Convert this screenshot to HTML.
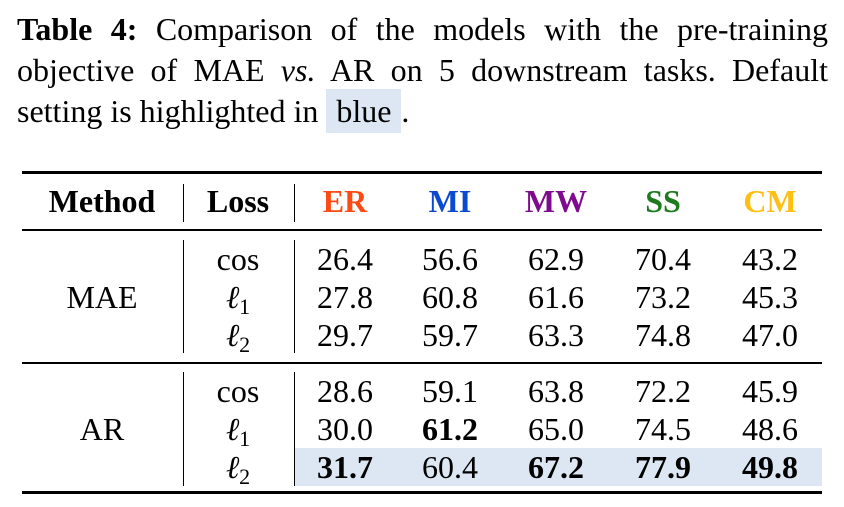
<!DOCTYPE html>
<html><head><meta charset="utf-8"><style>
body{margin:0;width:844px;height:507px;background:#fff;position:relative;overflow:hidden;font-family:"Liberation Serif","Times New Roman","DejaVu Serif",serif;color:#000}
.a{position:absolute;white-space:nowrap}
.cap{left:17px;font-size:32px;line-height:32px}
.j{width:811px;text-align:justify;text-align-last:justify}
.c{position:absolute;transform:translateX(-50%);font-size:32px;line-height:32px;white-space:nowrap}
.h{font-weight:bold}
.r{position:absolute;background:#000}
sub{font-size:22px;vertical-align:-6px;font-style:normal}
</style></head><body>
<div class="a cap j" style="top:13px"><b>Table 4:</b> Comparison of the models with the pre-training</div>
<div class="a cap j" style="top:54px">objective of MAE <i>vs.</i> AR on 5 downstream tasks. Default</div>
<div class="a cap" style="top:95px">setting is highlighted in <span style="background:#dce7f3;padding:4px 10px">blue</span>.</div>

<div class="a" style="left:295px;top:448px;width:527px;height:38px;background:#dce7f3"></div>

<div class="r" style="left:22px;top:171px;width:800px;height:3px"></div>
<div class="r" style="left:22px;top:229px;width:800px;height:1.5px"></div>
<div class="r" style="left:22px;top:362px;width:800px;height:1.5px"></div>
<div class="r" style="left:22px;top:491px;width:800px;height:3px"></div>

<div class="r" style="left:183px;top:184px;width:1.3px;height:38px"></div>
<div class="r" style="left:294px;top:184px;width:1.3px;height:38px"></div>
<div class="r" style="left:183px;top:240px;width:1.3px;height:113px"></div>
<div class="r" style="left:294px;top:240px;width:1.3px;height:113px"></div>
<div class="r" style="left:183px;top:372px;width:1.3px;height:114px"></div>
<div class="r" style="left:294px;top:372px;width:1.3px;height:114px"></div>

<div class="c h" style="left:102px;top:185px">Method</div>
<div class="c h" style="left:238px;top:185px">Loss</div>
<div class="c h" style="left:345px;top:185px;color:#fe4a14">ER</div>
<div class="c h" style="left:450px;top:185px;color:#0a4ad0">MI</div>
<div class="c h" style="left:556px;top:185px;color:#7e0a8e">MW</div>
<div class="c h" style="left:663px;top:185px;color:#1d7a1d">SS</div>
<div class="c h" style="left:770px;top:185px;color:#fdbf14">CM</div>

<div class="c" style="left:102px;top:281px">MAE</div>
<div class="c" style="left:102px;top:413px">AR</div>

<script>
const rowsY=[243,281,319,375,413,451];
const losses=['cos','ℓ1','ℓ2','cos','ℓ1','ℓ2'];
const er=['26.4','27.8','29.7','28.6','30.0','31.7'];
const mi=['56.6','60.8','59.7','59.1','61.2','60.4'];
const mw=['62.9','61.6','63.3','63.8','65.0','67.2'];
const ss=['70.4','73.2','74.8','72.2','74.5','77.9'];
const cm=['43.2','45.3','47.0','45.9','48.6','49.8'];
const bold=[[],[],[],[],['mi'],['er','mw','ss','cm']];
const cols=[['er',er,345],['mi',mi,450],['mw',mw,556],['ss',ss,663],['cm',cm,770]];
const b=document.body;
rowsY.forEach((y,i)=>{
  const l=document.createElement('div');
  l.className='c';l.style.left='238px';l.style.top=y+'px';
  
  
  l.innerHTML=losses[i]==='cos'?'cos':'<i>ℓ</i><sub>'+losses[i][1]+'</sub>';
  b.appendChild(l);
  cols.forEach(([k,arr,x])=>{
    const d=document.createElement('div');
    d.className='c';d.style.left=x+'px';d.style.top=y+'px';
    if(bold[i].includes(k))d.style.fontWeight='bold';
    
    
    d.textContent=arr[i];b.appendChild(d);
  });
});
</script>
</body></html>
